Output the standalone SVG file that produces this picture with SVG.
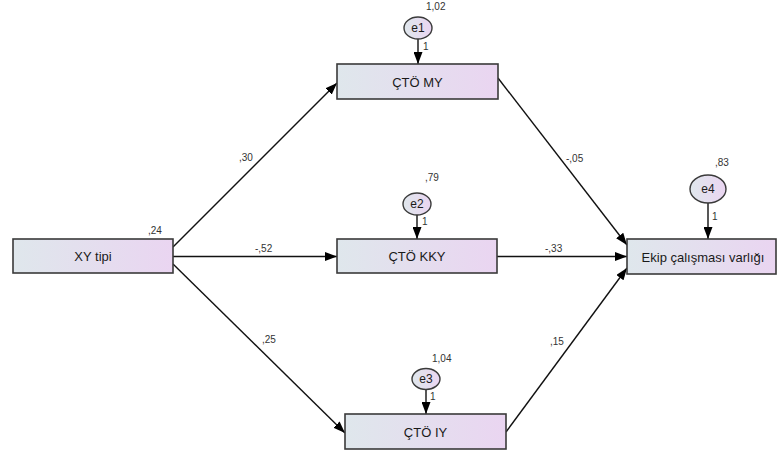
<svg xmlns="http://www.w3.org/2000/svg" width="779" height="455" viewBox="0 0 779 455">
<defs>
<linearGradient id="g" x1="0" y1="0" x2="1" y2="0">
<stop offset="0" stop-color="#dfe7ec"/>
<stop offset="1" stop-color="#ead5f1"/>
</linearGradient>
<marker id="ah" markerUnits="userSpaceOnUse" markerWidth="13" markerHeight="9" refX="12" refY="4.5" orient="auto">
<path d="M0,0 L12,4.5 L0,9 z" fill="#000"/>
</marker>
<style>
.box{fill:url(#g);stroke:#3a3a3a;stroke-width:1.6}
.err{fill:url(#g);stroke:#3a3a3a;stroke-width:1.4}
.lbl{font-family:"Liberation Sans",Arial,sans-serif;font-size:13px;fill:#1a1a1a;text-anchor:middle}
.el{font-family:"Liberation Sans",Arial,sans-serif;font-size:12px;fill:#1a1a1a;text-anchor:middle}
.num{font-family:"Liberation Sans",Arial,sans-serif;font-size:10px;fill:#333}
.edge{stroke:#111;stroke-width:1.4;fill:none;marker-end:url(#ah)}
</style>
</defs>
<rect width="779" height="455" fill="#fff"/>
<g id="connectors">
<line class="edge" x1="173" y1="247" x2="337" y2="83"/>
<line class="edge" x1="173" y1="256.5" x2="337" y2="256.5"/>
<line class="edge" x1="173" y1="264" x2="345" y2="433"/>
<line class="edge" x1="498" y1="78" x2="627" y2="245"/>
<line class="edge" x1="497" y1="256.5" x2="627" y2="256.5"/>
<line class="edge" x1="506" y1="432" x2="627" y2="268"/>
<line class="edge" x1="418" y1="39" x2="418" y2="64"/>
<line class="edge" x1="417" y1="215" x2="417" y2="239"/>
<line class="edge" x1="426" y1="389.5" x2="426" y2="414"/>
<line class="edge" x1="708" y1="203" x2="708" y2="239"/>
<text class="num" x="239" y="161">,30</text>
<text class="num" x="255" y="252">-,52</text>
<text class="num" x="262" y="343">,25</text>
<text class="num" x="566" y="162">-,05</text>
<text class="num" x="545" y="252">-,33</text>
<text class="num" x="550" y="345">,15</text>
<text class="num" x="423" y="50">1</text>
<text class="num" x="422" y="225">1</text>
<text class="num" x="430" y="400">1</text>
<text class="num" x="712" y="220">1</text>
</g>
<g id="xy">
<rect class="box" x="13" y="239" width="160" height="34"/>
<text class="lbl" x="93" y="261">XY tipi</text>
<text class="num" x="148" y="234">,24</text>
</g>
<g id="my">
<rect class="box" x="337" y="64" width="161" height="35"/>
<text class="lbl" x="417.5" y="86.5">ÇTÖ MY</text>
</g>
<g id="kky">
<rect class="box" x="337" y="239" width="160" height="34"/>
<text class="lbl" x="417" y="261">ÇTÖ KKY</text>
</g>
<g id="iy">
<rect class="box" x="345" y="414" width="161" height="35"/>
<text class="lbl" x="425.5" y="436.5">ÇTÖ IY</text>
</g>
<g id="ekip">
<rect class="box" x="627" y="239" width="149" height="35"/>
<text class="lbl" x="703" y="261.5">Ekip çalışması varlığı</text>
</g>
<g id="e1">
<ellipse class="err" cx="418" cy="28" rx="14" ry="11"/>
<text class="el" x="418" y="32">e1</text>
<text class="num" x="426" y="10">1,02</text>
</g>
<g id="e2">
<ellipse class="err" cx="417" cy="204" rx="14" ry="11"/>
<text class="el" x="417" y="208">e2</text>
<text class="num" x="425" y="181">,79</text>
</g>
<g id="e3">
<ellipse class="err" cx="426" cy="379" rx="14" ry="10.5"/>
<text class="el" x="426" y="383">e3</text>
<text class="num" x="432" y="362">1,04</text>
</g>
<g id="e4">
<ellipse class="err" cx="708" cy="189" rx="18" ry="14"/>
<text class="el" x="708" y="193">e4</text>
<text class="num" x="715" y="166">,83</text>
</g>
</svg>
